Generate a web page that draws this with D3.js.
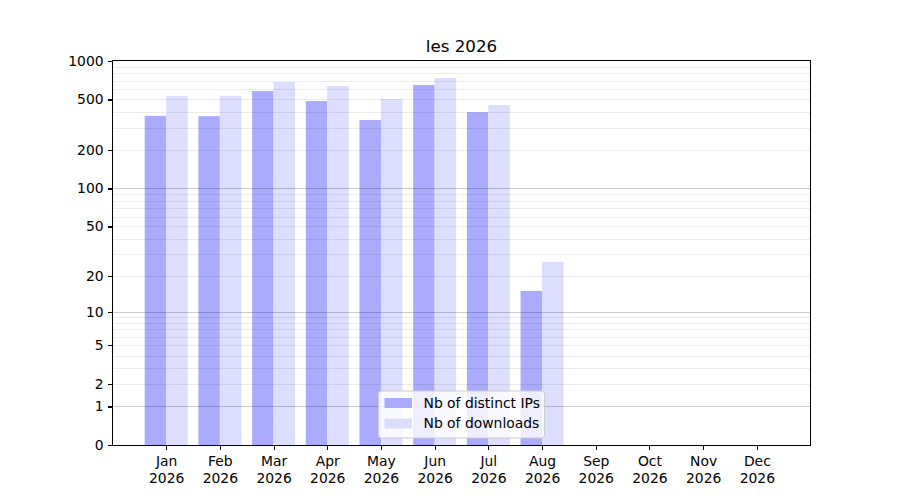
<!DOCTYPE html>
<html>
<head>
<meta charset="utf-8">
<script src="https://cdn.jsdelivr.net/npm/d3@7"></script>
<style>
  body { margin: 0; background: #fff; }
  svg { font-family: 'DejaVu Sans', sans-serif; }
</style>
</head>
<body>
<svg id="chart" width="900" height="500"></svg>
<script>
'use strict'

const months = ['Jan', 'Feb', 'Mar', 'Apr', 'May', 'Jun', 'Jul', 'Aug', 'Sep', 'Oct', 'Nov', 'Dec']
const year = '2026'
const distinctIPs = [372, 370, 582, 486, 345, 649, 398, 15, 0, 0, 0, 0]
const downloads = [532, 535, 685, 637, 504, 736, 452, 26, 0, 0, 0, 0]
const yTicks = [0, 1, 2, 5, 10, 20, 50, 100, 200, 500, 1000]
const majorGrid = [1, 10, 100]
const minorGrid = [2, 3, 4, 5, 6, 7, 8, 9, 20, 30, 40, 50, 60, 70, 80, 90, 200, 300, 400, 500, 600, 700, 800, 900]
const seriesNames = ['Nb of distinct IPs', 'Nb of downloads']
const colors = ['#aaaaff', '#ddddff']

let svg = d3.select('#chart')
let margin = { top: 61, right: 90, bottom: 55, left: 113 }
let width = 900 - margin.left - margin.right
let height = 500 - margin.top - margin.bottom

let g = svg.append('g').attr('transform', `translate(${margin.left}, ${margin.top})`)

let x = d3.scaleLinear().domain([-0.99, 11.99]).range([0, width])
let y = d3.scaleSymlog().constant(1).domain([0, 1000]).range([height, 0])
let barW = x(0.4) - x(0)

// bars
let series = [distinctIPs, downloads]
series.forEach((vals, s) => {
    g.append('g')
        .selectAll('rect')
        .data(vals)
        .enter()
        .append('rect')
        .attr('x', (d, i) => x(i + (s === 0 ? -0.4 : 0)))
        .attr('y', d => y(d))
        .attr('width', barW)
        .attr('height', d => height - y(d))
        .attr('fill', colors[s])
})

// grid
g.append('g')
    .selectAll('line')
    .data(minorGrid)
    .enter()
    .append('line')
    .attr('x1', 0).attr('x2', width)
    .attr('y1', d => Math.round(y(d)) + 0.5).attr('y2', d => Math.round(y(d)) + 0.5)
    .attr('stroke', 'rgba(0,0,0,0.07)')

g.append('g')
    .selectAll('line')
    .data(majorGrid)
    .enter()
    .append('line')
    .attr('x1', 0).attr('x2', width)
    .attr('y1', d => Math.round(y(d)) + 0.5).attr('y2', d => Math.round(y(d)) + 0.5)
    .attr('stroke', 'rgba(0,0,0,0.2)')

// frame
g.append('rect')
    .attr('x', -0.5).attr('y', -0.5)
    .attr('width', width + 1).attr('height', height + 1)
    .attr('fill', 'none').attr('stroke', '#000').attr('stroke-width', 1.1)
    .attr('shape-rendering', 'crispEdges')

// y axis
let yAxis = g.append('g')
    .call(d3.axisLeft(y).tickValues(yTicks).tickFormat(d3.format('d')).tickSize(4.9).tickPadding(4.5))
yAxis.select('.domain').remove()
yAxis.selectAll('text').attr('font-size', '13.9px').attr('fill', '#000').attr('font-family', 'DejaVu Sans')
yAxis.selectAll('line').attr('stroke', '#000').attr('stroke-width', 1.1).attr('shape-rendering', 'crispEdges')

// x axis
let xAxis = g.append('g')
    .attr('transform', `translate(0, ${height})`)
    .call(d3.axisBottom(x).tickValues(d3.range(months.length)).tickFormat('').tickSize(4.9))
xAxis.select('.domain').remove()
xAxis.selectAll('line').attr('stroke', '#000').attr('stroke-width', 1.1).attr('shape-rendering', 'crispEdges')
let xl = xAxis.selectAll('.tick')
    .append('text')
    .attr('fill', '#000')
    .attr('font-size', '13.9px')
    .attr('font-family', 'DejaVu Sans')
    .attr('text-anchor', 'middle')
xl.append('tspan').attr('x', 0).attr('y', 21).text(d => months[d])
xl.append('tspan').attr('x', 0).attr('y', 37.5).text(year)

// title
svg.append('text')
    .attr('x', margin.left + width / 2)
    .attr('y', 52)
    .attr('text-anchor', 'middle')
    .attr('font-size', '16.7px')
    .attr('fill', '#000')
    .text('les ' + year)

// legend
let lw = 166, lh = 47
let legend = g.append('g').attr('transform', `translate(${width / 2 - lw / 2}, ${height - 7 - lh})`)
legend.append('rect')
    .attr('width', lw).attr('height', lh).attr('rx', 3)
    .attr('fill', 'rgba(255,255,255,0.8)').attr('stroke', '#cccccc')
let items = legend.selectAll('g.item')
    .data(seriesNames)
    .enter()
    .append('g')
    .attr('class', 'item')
    .attr('transform', (d, i) => `translate(6, ${7 + i * 20.5})`)
items.append('rect')
    .attr('width', 27.5).attr('height', 10)
    .attr('fill', (d, i) => colors[i])
items.append('text')
    .attr('x', 39)
    .attr('y', 5)
    .attr('dy', '0.35em')
    .attr('font-size', '13.9px')
    .attr('fill', '#000')
    .text(d => d)
</script>
</body>
</html>
